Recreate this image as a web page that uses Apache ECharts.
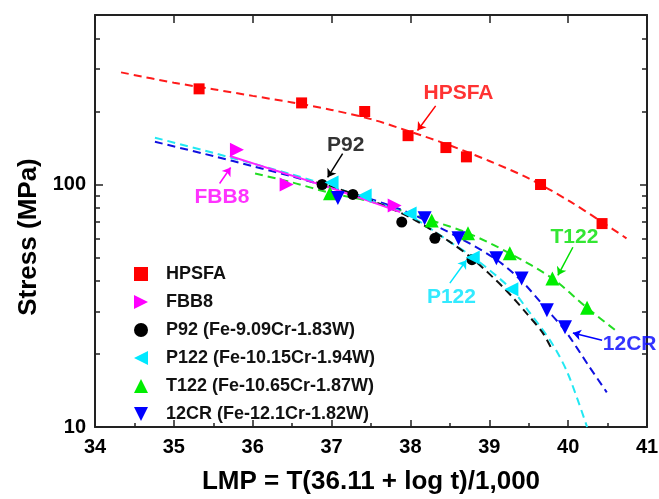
<!DOCTYPE html>
<html>
<head>
<meta charset="utf-8">
<script src="https://cdn.jsdelivr.net/npm/echarts@6/dist/echarts.min.js"></script>
<style>
  html, body { margin: 0; padding: 0; background: #fff; }
  #chart { width: 659px; height: 499px; }
</style>
</head>
<body>
<div id="chart"></div>
<script>
  /* measured points */
  const hpsfaX = [35.32, 36.62, 37.42, 37.97, 38.45, 38.71, 39.65, 40.43];
  const hpsfaY = [248, 217, 200, 159, 142, 130, 100, 69];
  const fbb8X = [35.80, 36.43, 37.80];
  const fbb8Y = [139, 100, 82];
  const p92X = [36.88, 37.27, 37.89, 38.31, 38.78];
  const p92Y = [100, 91, 70, 60, 49];
  const p122X = [37.00, 37.42, 37.99, 38.79, 39.28];
  const p122Y = [102, 90, 76, 50, 37];
  const t122X = [36.98, 38.27, 38.73, 39.26, 39.80, 40.24];
  const t122Y = [92, 71, 63, 52, 41, 31];
  const cr12X = [37.08, 38.18, 38.61, 39.09, 39.41, 39.73, 39.96];
  const cr12Y = [88, 72.5, 60, 49.6, 41, 30.3, 25.8];

  /* fitted curves */
  const hpsfaFitX = [34.33, 35.0, 35.5, 36.0, 36.5, 37.0, 37.5, 38.0, 38.5, 39.0, 39.5, 40.0, 40.43, 40.74];
  const hpsfaFitY = [290, 263, 247, 232, 218, 203, 186, 165, 145, 125, 106, 86, 70, 60];
  const fbb8FitX = [35.71, 36.3, 36.98, 37.45, 37.87];
  const fbb8FitY = [131, 114, 97, 86, 77];
  const p92FitX = [36.80, 37.0, 37.5, 38.0, 38.5, 38.8, 39.2, 39.49, 39.68, 39.79];
  const p92FitY = [102, 98, 86, 73, 58, 49, 37, 29, 24.4, 21];
  const p122FitX = [34.76, 35.5, 36.0, 36.5, 37.0, 37.5, 38.0, 38.5, 38.8, 39.28, 39.5, 39.8, 40.0, 40.24];
  const p122FitY = [156, 135, 122, 110, 98, 86, 74, 58, 50, 37, 30, 22, 16.5, 10];
  const t122FitX = [36.03, 36.5, 37.0, 37.5, 38.0, 38.27, 38.73, 39.26, 39.8, 40.24, 40.63];
  const t122FitY = [111, 102, 92, 85, 76, 71, 63, 52, 41, 31, 24.6];
  const cr12FitX = [34.76, 35.5, 36.0, 36.5, 37.0, 37.5, 38.0, 38.63, 39.09, 39.41, 39.73, 39.96, 40.27, 40.49];
  const cr12FitY = [150, 131, 119, 108, 97, 87, 76, 60, 49, 40, 30.5, 25, 17.7, 13.9];

  /* axis ticks */
  const yLabels = [10, 100];
  const yMinor = [20, 30, 40, 50, 60, 70, 80, 90, 200, 300, 400];

  /* annotations */
  const noteText = ['HPSFA', 'P92', 'FBB8', 'T122', 'P122', '12CR'];
  const noteX = [38.61, 37.18, 35.61, 40.08, 38.52, 40.78];
  const noteY = [239, 145, 89, 60.5, 34.3, 22];
  const arrowFrom = [[38.32, 211], [37.14, 134], [35.58, 101], [40.06, 55.1], [38.50, 39.2], [40.43, 22.8]];
  const arrowTo = [[38.09, 167], [36.95, 107], [35.72, 117.5], [39.87, 42.2], [38.71, 48.7], [40.06, 24.4]];

  const noteColors = ['#ff0000', '#000000', '#ff00ff', '#00e000', '#00e5ff', '#0000ff'];
  const FONT = '"Liberation Sans", Arial, sans-serif';
  const AXIS = '#222';

  // triangle symbols pointing in each direction
  const TRI_UP = 'path://M5,0 L10,10 L0,10 Z';
  const TRI_DOWN = 'path://M0,0 L10,0 L5,10 Z';
  const TRI_LEFT = 'path://M0,5 L10,0 L10,10 Z';
  const TRI_RIGHT = 'path://M0,0 L10,5 L0,10 Z';

  function pairs(xs, ys) {
    return xs.map(function (x, i) { return [x, ys[i]]; });
  }

  function fitLine(name, xs, ys, color, type) {
    return {
      name: name, type: 'line', data: pairs(xs, ys),
      smooth: 0.3, symbol: 'none', silent: true, z: 2,
      lineStyle: { color: color, width: 2, type: type || [8, 5] }
    };
  }

  function points(name, xs, ys, symbol, size, color) {
    return {
      name: name, type: 'scatter', data: pairs(xs, ys),
      symbol: symbol, symbolSize: size, z: 4,
      itemStyle: { color: color, opacity: 1 }
    };
  }

  const chart = echarts.init(document.getElementById('chart'));

  const baseX = { type: 'value', min: 34, max: 41, interval: 1, splitLine: { show: false } };
  const baseY = { type: 'log', logBase: 10, min: 10, max: 500, splitLine: { show: false } };

  chart.setOption({
    animation: false,
    backgroundColor: '#fff',
    grid: { left: 95, right: 12, top: 15, bottom: 72, containLabel: false, outerBoundsMode: 'none' },
    legend: {
      orient: 'vertical', left: 129, top: 260,
      itemWidth: 14, itemHeight: 14, itemGap: 10,
      data: ['HPSFA', 'FBB8', 'P92 (Fe-9.09Cr-1.83W)', 'P122 (Fe-10.15Cr-1.94W)', 'T122 (Fe-10.65Cr-1.87W)', '12CR (Fe-12.1Cr-1.82W)'],
      textStyle: { color: '#111', fontFamily: FONT, fontWeight: 'bold', fontSize: 18, lineHeight: 14, padding: [0, 0, 0, 13] }
    },
    xAxis: [
      Object.assign({}, baseX, {
        position: 'bottom',
        name: 'LMP = T(36.11 + log t)/1,000', nameLocation: 'middle', nameGap: 42,
        nameTextStyle: { color: '#000', fontFamily: FONT, fontWeight: 'bold', fontSize: 26 },
        axisLine: { lineStyle: { color: AXIS, width: 2 } },
        axisTick: { inside: true, length: 7, lineStyle: { color: AXIS, width: 1.5 } },
        minorTick: { show: true, splitNumber: 2, length: 4, lineStyle: { color: AXIS, width: 1.5 } },
        axisLabel: { color: '#000', fontFamily: FONT, fontWeight: 'bold', fontSize: 20, margin: 10 }
      }),
      Object.assign({}, baseX, {
        position: 'top',
        axisLine: { lineStyle: { color: AXIS, width: 2 } },
        axisTick: { inside: true, length: 8, lineStyle: { color: AXIS, width: 1.5 } },
        axisLabel: { show: false }
      })
    ],
    yAxis: [
      Object.assign({}, baseY, {
        position: 'left',
        name: 'Stress (MPa)', nameLocation: 'middle', nameGap: 52,
        nameTextStyle: { color: '#000', fontFamily: FONT, fontWeight: 'bold', fontSize: 26, padding: [0, 32, 0, 0] },
        axisLine: { lineStyle: { color: AXIS, width: 2 } },
        axisTick: { inside: true, length: 8, customValues: yLabels, lineStyle: { color: AXIS, width: 1.5 } },
        axisLabel: { customValues: yLabels, color: '#000', fontFamily: FONT, fontWeight: 'bold', fontSize: 20, margin: 9 }
      }),
      Object.assign({}, baseY, {
        position: 'left',
        axisLine: { show: false },
        axisTick: { inside: true, length: 5, customValues: yMinor, lineStyle: { color: AXIS, width: 1.5 } },
        axisLabel: { show: false }
      }),
      Object.assign({}, baseY, {
        position: 'right',
        axisLine: { lineStyle: { color: AXIS, width: 2 } },
        axisTick: { inside: true, length: 7, customValues: yLabels, lineStyle: { color: AXIS, width: 1.5 } },
        axisLabel: { show: false }
      }),
      Object.assign({}, baseY, {
        position: 'right',
        axisLine: { show: false },
        axisTick: { inside: true, length: 5, customValues: yMinor, lineStyle: { color: AXIS, width: 1.5 } },
        axisLabel: { show: false }
      })
    ],
    series: [
      fitLine('HPSFA fit', hpsfaFitX, hpsfaFitY, '#ff1a1a'),
      fitLine('T122 fit', t122FitX, t122FitY, '#22dd22'),
      fitLine('12CR fit', cr12FitX, cr12FitY, '#1010e0'),
      fitLine('P122 fit', p122FitX, p122FitY, '#22e8f2'),
      fitLine('P92 fit', p92FitX, p92FitY, '#111111'),
      fitLine('FBB8 fit', fbb8FitX, fbb8FitY, '#ff22ff', 'solid'),

      points('HPSFA', hpsfaX, hpsfaY, 'rect', 11, '#ff0000'),
      points('FBB8', fbb8X, fbb8Y, TRI_RIGHT, 14, '#ff00ff'),
      points('P92 (Fe-9.09Cr-1.83W)', p92X, p92Y, 'circle', 11, '#000000'),
      points('P122 (Fe-10.15Cr-1.94W)', p122X, p122Y, TRI_LEFT, 14, '#00e8ff'),
      points('T122 (Fe-10.65Cr-1.87W)', t122X, t122Y, TRI_UP, 14, '#00ee00'),
      points('12CR (Fe-12.1Cr-1.82W)', cr12X, cr12Y, TRI_DOWN, 14, '#0000ff'),

      {
        name: 'arrows', type: 'lines', coordinateSystem: 'cartesian2d', silent: true, z: 5,
        symbol: ['none', 'arrow'], symbolSize: 8,
        data: arrowFrom.map(function (p, i) {
          return { coords: [p, arrowTo[i]], lineStyle: { color: noteColors[i], width: 1.5, opacity: 1 } };
        })
      },
      {
        name: 'notes', type: 'scatter', silent: true, z: 6, symbolSize: 0,
        data: noteX.map(function (x, i) {
          return {
            value: [x, noteY[i]],
            label: {
              show: true, position: 'inside', formatter: noteText[i],
              color: noteColors[i], fontFamily: FONT, fontWeight: 'bold', fontSize: 21
            }
          };
        })
      }
    ]
  });
</script>
</body>
</html>
